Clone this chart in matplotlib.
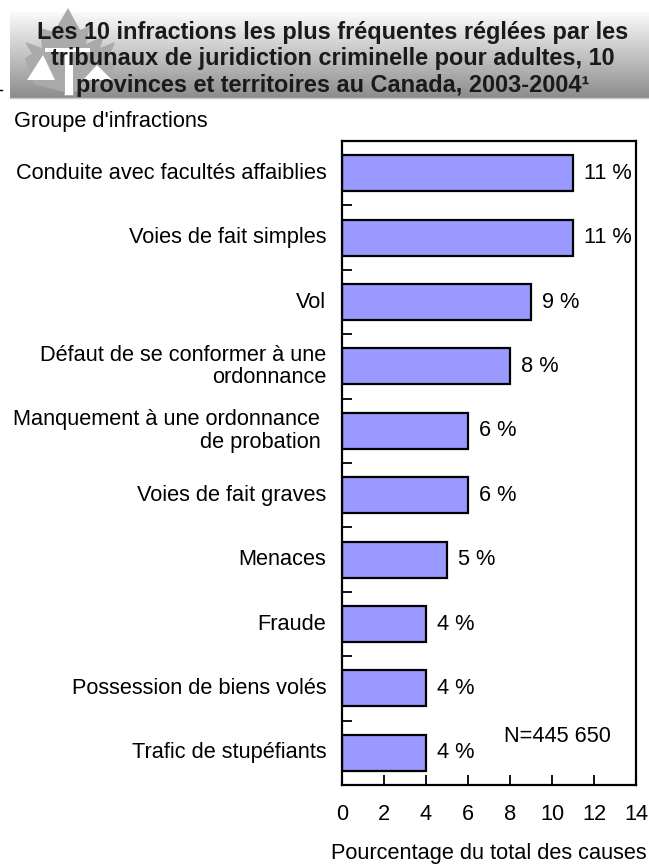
import numpy as np
import matplotlib
matplotlib.use("Agg")
import matplotlib.pyplot as plt
from matplotlib.patches import Polygon

plt.rcParams['font.family'] = ['Liberation Sans', 'DejaVu Sans']

# === Données ===
categories = ["Conduite avec facultés affaiblies", "Voies de fait simples", "Vol",
              "Défaut de se conformer à une\nordonnance",
              "Manquement à une ordonnance \nde probation ",
              "Voies de fait graves", "Menaces", "Fraude",
              "Possession de biens volés", "Trafic de stupéfiants"]
valeurs = [11, 11, 9, 8, 6, 6, 5, 4, 4, 4]
xticks = [0, 2, 4, 6, 8, 10, 12, 14]

titre = ("Les 10 infractions les plus fréquentes réglées par les\n"
         "tribunaux de juridiction criminelle pour adultes, 10\n"
         "provinces et territoires au Canada, 2003-2004¹")

W, H = 649, 865
FS = 15.7
fig = plt.figure(figsize=(W / 100, H / 100), dpi=100)

# === Bandeau du titre (pixels) ===
bg = fig.add_axes([0, 0, 1, 1])
bg.axis("off")
grad = np.linspace(0.98, 0.55, 100).reshape(-1, 1)
bg.imshow(grad, extent=[10, W, 98, 12], cmap="gray", vmin=0, vmax=1, aspect="auto", zorder=1)
bg.plot([10, W], [98, 98], color="#c8c8c8", lw=1, zorder=2)
bg.set_xlim(0, W)
bg.set_ylim(H, 0)

# feuille d'érable du logo
feuille = [(68, 8), (80, 30), (90, 26), (86, 44), (104, 36), (100, 48), (115, 42), (108, 60),
           (115, 66), (104, 84), (74, 92), (74, 96), (64, 96), (64, 92), (34, 84), (25, 58),
           (32, 54), (25, 42), (42, 48), (40, 28), (54, 32)]
bg.add_patch(Polygon(feuille, closed=True, fc="#aaaaaa", ec="none", zorder=3))
bg.add_patch(Polygon([(27, 80), (43, 55), (55, 80)], closed=True, fc="white", ec="none", zorder=4))
bg.add_patch(Polygon([(83, 80), (97, 65), (112, 80)], closed=True, fc="white", ec="none", zorder=4))
bg.add_patch(Polygon([(45, 48), (90, 48), (90, 52), (73, 52), (73, 95), (65, 95), (65, 52), (45, 52)],
                     closed=True, fc="white", ec="none", zorder=4))

bg.text(333, 59, titre, ha="center", va="center", fontsize=16.9, fontweight="bold",
        color="#1a1a1a", linespacing=1.19, zorder=5)
bg.text(14, 122, "Groupe d'infractions", ha="left", va="center", fontsize=FS, color="black")
bg.text(647, 854, "Pourcentage du total des causes", ha="right", va="center", fontsize=FS, color="black")
bg.plot([0, 2], [90, 90], color="black", lw=1)

# === Graphique ===
x0, x1, y0, y1 = 342, 636, 141, 785
ax = fig.add_axes([x0 / W, 1 - y1 / H, (x1 - x0) / W, (y1 - y0) / H])
pos = np.arange(len(valeurs))
ax.barh(pos, valeurs, height=0.56, color="#9999ff", edgecolor="black", linewidth=1.6)
ax.set_ylim(len(valeurs) - 0.5, -0.5)
ax.set_xlim(0, 14)

for i, v in enumerate(valeurs):
    ax.text(v + 0.52, i, f"{v} %", ha="left", va="center", fontsize=FS, color="black")
ax.text(10.25, 8.74, "N=445 650", ha="center", va="center", fontsize=FS, color="black")

ax.set_xticks(xticks)
ax.set_yticks(np.arange(-0.5, len(valeurs) + 0.5))
ax.set_yticklabels([])
ax.tick_params(axis="x", direction="in", length=7, width=1.3, pad=14, labelsize=FS)
ax.tick_params(axis="y", direction="in", length=7, width=1.3)
for s in ax.spines.values():
    s.set_linewidth(1.6)

for i, c in enumerate(categories):
    ax.text(-0.75, i, c, ha="right", va="center", fontsize=FS, color="black", linespacing=1.1)

fig.savefig("out.png", dpi=100, facecolor="white")
